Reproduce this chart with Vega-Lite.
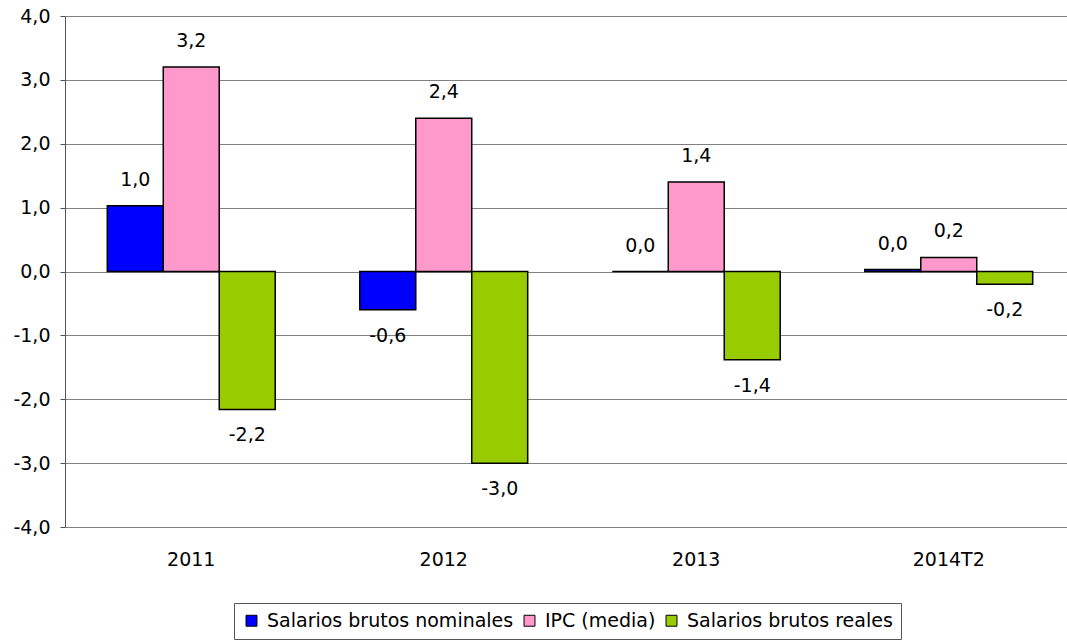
{
  "$schema": "https://vega.github.io/schema/vega-lite/v6.json",
  "autosize": "none",
  "width": 1000,
  "height": 511,
  "padding": {"left": 65, "top": 16, "right": 2, "bottom": 115},
  "background": "white",
  "config": {
    "font": "DejaVu Sans",
    "view": {"stroke": null},
    "locale": {"number": {"decimal": ",", "thousands": ".", "grouping": [3], "currency": ["", " €"], "minus": "-"}}
  },
  "data": {
    "values": [
      {"year": "2011", "serie": "Salarios brutos nominales", "valor": 1.03},
      {"year": "2011", "serie": "IPC (media)", "valor": 3.2},
      {"year": "2011", "serie": "Salarios brutos reales", "valor": -2.16},
      {"year": "2012", "serie": "Salarios brutos nominales", "valor": -0.6},
      {"year": "2012", "serie": "IPC (media)", "valor": 2.4},
      {"year": "2012", "serie": "Salarios brutos reales", "valor": -3.0},
      {"year": "2013", "serie": "Salarios brutos nominales", "valor": 0.0},
      {"year": "2013", "serie": "IPC (media)", "valor": 1.4},
      {"year": "2013", "serie": "Salarios brutos reales", "valor": -1.38},
      {"year": "2014T2", "serie": "Salarios brutos nominales", "valor": 0.03},
      {"year": "2014T2", "serie": "IPC (media)", "valor": 0.22},
      {"year": "2014T2", "serie": "Salarios brutos reales", "valor": -0.2}
    ]
  },
  "encoding": {
    "x": {
      "field": "year", "type": "nominal",
      "scale": {"range": [0, 1010], "paddingInner": 0.335, "paddingOuter": 0.1675},
      "axis": {"title": null, "labelAngle": 0, "labelFontSize": 19, "labelColor": "black", "labelPadding": 23, "ticks": false, "domain": false, "labelFont": "DejaVu Sans"}
    },
    "xOffset": {"field": "serie", "type": "nominal", "sort": ["Salarios brutos nominales", "IPC (media)", "Salarios brutos reales"], "scale": {"paddingInner": 0, "paddingOuter": 0}},
    "y": {
      "field": "valor", "type": "quantitative",
      "scale": {"domain": [-4, 4], "nice": false, "zero": false},
      "axis": {"title": null, "values": [-4, -3, -2, -1, 0, 1, 2, 3, 4], "format": ".1f", "labelFontSize": 19, "labelColor": "black", "labelPadding": 10, "tickSize": 5, "tickColor": "#555555", "domainColor": "#555555", "gridColor": "#808080", "gridWidth": 1, "labelFont": "DejaVu Sans"}
    }
  },
  "layer": [
    {
      "mark": {"type": "bar", "stroke": "black", "strokeWidth": 1.5},
      "encoding": {
        "color": {
          "field": "serie", "type": "nominal",
          "sort": ["Salarios brutos nominales", "IPC (media)", "Salarios brutos reales"],
          "scale": {"domain": ["Salarios brutos nominales", "IPC (media)", "Salarios brutos reales"], "range": ["#0000ff", "#ff99cc", "#99cc00"]},
          "legend": {
            "title": null, "orient": "none", "direction": "horizontal",
            "legendX": 169, "legendY": 587,
            "labelFontSize": 19, "labelColor": "black", "labelFont": "DejaVu Sans", "labelLimit": 500,
            "symbolType": "square", "symbolSize": 120, "symbolStrokeColor": "black", "symbolStrokeWidth": 1,
            "strokeColor": "#555555", "padding": 8, "columnPadding": 6, "labelOffset": 6, "fillColor": "white"
          }
        }
      }
    },
    {
      "transform": [{"filter": "datum.valor >= 0"}],
      "mark": {"type": "text", "baseline": "middle", "dy": -26, "fontSize": 19, "color": "black", "font": "DejaVu Sans"},
      "encoding": {"text": {"field": "valor", "type": "quantitative", "format": ".1f"}}
    },
    {
      "transform": [{"filter": "datum.valor < 0"}],
      "mark": {"type": "text", "baseline": "middle", "dy": 26, "fontSize": 19, "color": "black", "font": "DejaVu Sans"},
      "encoding": {"text": {"field": "valor", "type": "quantitative", "format": ".1f"}}
    }
  ]
}
